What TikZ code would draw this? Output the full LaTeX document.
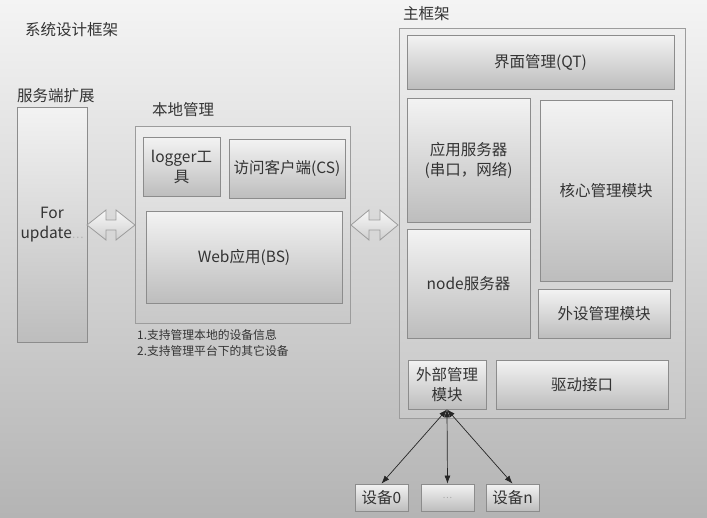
\documentclass[tikz,border=0pt]{standalone}
\usepackage{fontspec}
\setmainfont{Noto Sans CJK SC}
\usetikzlibrary{arrows.meta,shadows}
\definecolor{bgtop}{HTML}{F4F4F4}
\definecolor{bgbot}{HTML}{B4B4B4}
\definecolor{frtop}{HTML}{EEEEEE}
\definecolor{frbot}{HTML}{C8C8C8}
\definecolor{frdraw}{HTML}{9C9C9C}
\definecolor{boxtop}{HTML}{F3F3F3}
\definecolor{boxbot}{HTML}{BDBDBD}
\definecolor{boxdraw}{HTML}{8C8C8C}
\definecolor{txt}{HTML}{333333}
\definecolor{artop}{HTML}{F8F8F8}
\definecolor{arbot}{HTML}{CFCFCF}
\newcommand\bx[7][box]{\node[#1, minimum width={(#5-#3)*1pt}, minimum height={(#6-#4)*1pt}] (#2) at ({(#3+#5)/2},{-(#4+#6)/2}) {#7};}
\tikzset{
  base/.style={inner sep=1pt, align=center, text=txt, font=\fontsize{15.5}{20}\selectfont},
  box/.style={base, draw=boxdraw, line width=0.8pt, top color=boxtop, bottom color=boxbot,
    drop shadow={opacity=0.18, shadow xshift=1pt, shadow yshift=-1pt}},
  framebox/.style={base, draw=frdraw, line width=1pt, top color=frtop, bottom color=frbot,
    drop shadow={opacity=0.15, shadow xshift=1pt, shadow yshift=-1pt}},
  lbl/.style={anchor=west, inner sep=0pt, text=txt, font=\fontsize{15.5}{20}\selectfont},
  note/.style={anchor=north west, inner sep=0pt, align=left, text=txt, font=\fontsize{11.8}{16}\selectfont},
  dblarrow/.style={draw=frdraw, line width=0.8pt, top color=artop, bottom color=arbot, line join=miter},
  conn/.style={draw=black!85, line width=0.7pt, {Latex[length=8pt,width=6pt]}-{Latex[length=8pt,width=6pt]}}
}
\begin{document}
\begin{tikzpicture}[x=1pt,y=1pt]
\shade[top color=bgtop, bottom color=bgbot] (0,0) rectangle (707,-517);
\useasboundingbox (0,0) rectangle (707,-517);

% titles
\node[lbl] (title) at (25,-30) {系统设计框架};
\node[lbl] (tsrv) at (17,-96) {服务端扩展};
\node[lbl] (tlocal) at (152,-110) {本地管理};
\node[lbl] (tmain) at (403,-14) {主框架};

% frames
\bx[framebox]{local}{135}{126}{350}{323}{}
\bx[framebox]{main}{399}{28}{685}{418}{}

% left box
\bx{srv}{17}{107}{87}{342}{For\\update{\color{gray!60}\fontsize{11}{11}\selectfont …}}

% local management
\bx{logger}{143}{137}{220}{196}{logger工\\具}
\bx{cs}{229}{139}{345}{198}{访问客户端(CS)}
\bx{web}{146}{211}{342}{303}{Web应用(BS)}
\node[note] (notes) at (137,-329) {1.支持管理本地的设备信息\\2.支持管理平台下的其它设备};

% main frame
\bx{ui}{407}{35}{674}{89}{界面管理(QT)}
\bx{app}{407}{98}{530}{222}{应用服务器\\(串口，网络)}
\bx{nodesrv}{407}{229}{530}{338}{node服务器}
\bx{core}{540}{100}{672}{281}{核心管理模块}
\bx{periph}{538}{289}{670}{338}{外设管理模块}
\bx{ext}{408}{360}{486}{409}{外部管理\\模块}
\bx{drv}{496}{360}{668}{409}{驱动接口}

% devices
\bx{d0}{355}{484}{408}{511}{设备0}
\bx{dd}{421}{484}{474}{511}{{\color{gray!70}\fontsize{9}{9}\selectfont …}}
\bx{dn}{486}{484}{539}{511}{设备n}

% double arrows
\path[dblarrow] (87,-225) -- (106,-210) -- (106,-220) -- (116,-220) -- (116,-210) -- (135,-225)
  -- (116,-240) -- (116,-230) -- (106,-230) -- (106,-240) -- cycle;
\path[dblarrow] (351,-225) -- (369,-210) -- (369,-220) -- (380,-220) -- (380,-210) -- (398,-225)
  -- (380,-240) -- (380,-230) -- (369,-230) -- (369,-240) -- cycle;

% connectors
\draw[conn] (ext.south) -- (d0.north);
\draw[conn] (ext.south) -- (dd.north);
\draw[conn] (ext.south) -- (dn.north);
\end{tikzpicture}
\end{document}
